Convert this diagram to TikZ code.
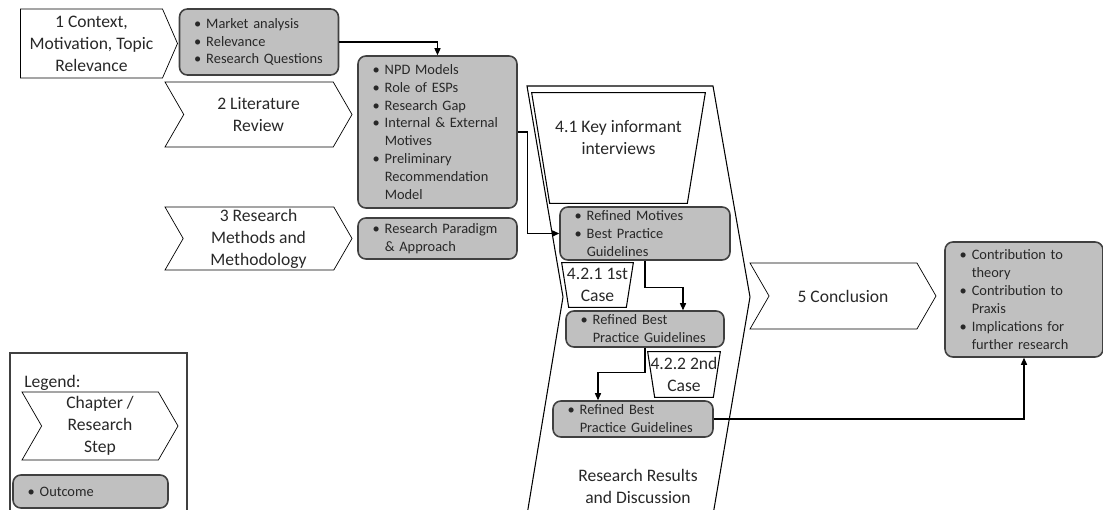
\documentclass[tikz,border=0pt]{standalone}
\usepackage{fontspec}
\setmainfont{Carlito}
\usepackage{xcolor}
\usetikzlibrary{shapes.symbols,arrows.meta,calc}

\definecolor{boxgray}{RGB}{192,192,192}
\definecolor{edgegray}{RGB}{64,64,64}
\definecolor{txtgray}{RGB}{40,40,40}

% bullet lines for the outcome boxes
\newcommand{\bu}[1]{\mbox{\makebox[0.85em][l]{\textbullet}#1}}
\newcommand{\nx}[1]{\mbox{\hspace*{0.85em}#1}}
% trapezoid round a case node, #2 = inset at the bottom
\newcommand{\casetrap}[2]{\draw[line width=0.6pt] (#1.north west) -- (#1.north east)
  -- ($(#1.south east)+(-#2,0)$) -- ($(#1.south west)+(#2,0)$) -- cycle;}

\begin{document}
\begin{tikzpicture} %Research design
  [
    x=0.02cm, y=-0.02cm,
    % Estilos para capitulos, resultados y casos
    chapter/.style={signal, draw, signal to=east, signal from=west, signal pointer angle=120,
      inner sep=0pt, align=center, text=txtgray, font=\fontsize{10}{12.5}\selectfont},
    outcome/.style={rectangle, rounded corners=4.5pt, draw=edgegray, line width=0.9pt, fill=boxgray,
      inner xsep=0.29cm, inner ysep=0pt, align=left, text=txtgray, font=\fontsize{8.2}{10.2}\selectfont},
    casebox/.style={rectangle, inner sep=0pt, align=center, text=txtgray,
      font=\fontsize{10}{12.5}\selectfont},
    arr/.style={-{Triangle[length=4pt,width=3.5pt]}, line width=0.6pt}
  ]
  \useasboundingbox (0,0) rectangle (1103,510);

  % chapter 4 frame
  \draw[line width=0.6pt] (527,86) -- (713,86) -- (750,297) -- (713,515) -- (527,515) -- (563,297) -- cycle;
  \node[text=txtgray, align=center, font=\fontsize{10}{12.5}\selectfont] (ch4) at (638,486) {Research Results\\and Discussion};

  \node[chapter, signal from=nowhere, signal pointer angle=133, minimum width=157*0.02cm, minimum height=69*0.02cm] (ch1) at (91.5,43.5) {1 Context,\\Motivation, Topic\\Relevance};
  \node[chapter, minimum width=187*0.02cm, minimum height=65*0.02cm] (ch2) at (258.5,114.5) {2 Literature\\Review};
  \node[chapter, minimum width=187*0.02cm, minimum height=63*0.02cm] (ch3) at (258.5,238.5) {3 Research\\Methods and\\Methodology};
  \node[chapter, minimum width=186*0.02cm, minimum height=66*0.02cm] (ch5) at (843,296) {5 Conclusion};

  \node[outcome, text width=2.6cm, minimum height=66*0.02cm] (o1) at (259,42) {\bu{Market analysis}\\\bu{Relevance}\\\bu{Research Questions}};
  \node[outcome, text width=2.6cm, minimum height=152*0.02cm] (npd) at (437.5,132) {\bu{NPD Models}\\\bu{Role of ESPs}\\\bu{Research Gap}\\\bu{Internal \& External}\\\nx{Motives}\\\bu{Preliminary}\\\nx{Recommendation}\\\nx{Model}};
  \node[outcome, text width=2.6cm, minimum height=41*0.02cm] (rp) at (437.5,238.5) {\bu{Research Paradigm}\\\nx{\& Approach}};

  \node[casebox, minimum width=173*0.02cm, minimum height=110*0.02cm] (k41) at (618.5,148) {4.1 Key informant\\interviews\\[0pt]};
  \casetrap{k41}{18}
  \node[outcome, text width=2.82cm, minimum height=53*0.02cm] (rm) at (645,233.5) {\bu{Refined Motives}\\\bu{Best Practice}\\\nx{Guidelines}};
  \node[casebox, minimum width=71*0.02cm, minimum height=44*0.02cm] (c421) at (597.5,285) {4.2.1 1st\\Case};
  \casetrap{c421}{7}
  \node[outcome, text width=2.58cm, minimum height=36*0.02cm] (rb1) at (645,329) {\bu{Refined Best}\\\nx{Practice Guidelines}};
  \node[casebox, minimum width=72*0.02cm, minimum height=45*0.02cm] (c422) at (684,374.5) {4.2.2 2nd\\Case};
  \casetrap{c422}{7}
  \node[outcome, text width=2.62cm, minimum height=36*0.02cm] (rb2) at (633,419) {\bu{Refined Best}\\\nx{Practice Guidelines}};

  \node[outcome, text width=2.58cm, minimum height=115*0.02cm] (ctb) at (1024,299.5) {\bu{Contribution to}\\\nx{theory}\\\bu{Contribution to}\\\nx{Praxis}\\\bu{Implications for}\\\nx{further research}};

  % legend
  \draw[edgegray, line width=0.8pt] (10,353) rectangle (187,515);
  \node[anchor=west, inner sep=0pt, text=txtgray, font=\fontsize{10}{12.5}\selectfont] (leg) at (24,383) {Legend:};
  \node[chapter, minimum width=156*0.02cm, minimum height=68*0.02cm] (legch) at (100,426) {Chapter /\\Research\\Step};
  \node[outcome, text width=2.52cm, minimum height=33*0.02cm] (legout) at (90.5,491.5) {\bu{Outcome}};

  \draw[arr] (o1.east) -| (npd.north);
  \draw[arr] (npd.east) -- ++(10,0) |- (rm.west);
  \draw[arr] (rm.south) -- ++(0,27) -| ($(rb1.north)+(38,0)$);
  \draw[arr] (rb1.south) -- ++(0,25) -| ($(rb2.north)+(-35,0)$);
  \draw[arr] (rb2.east) -| (ctb.south);

\end{tikzpicture}
\end{document}
